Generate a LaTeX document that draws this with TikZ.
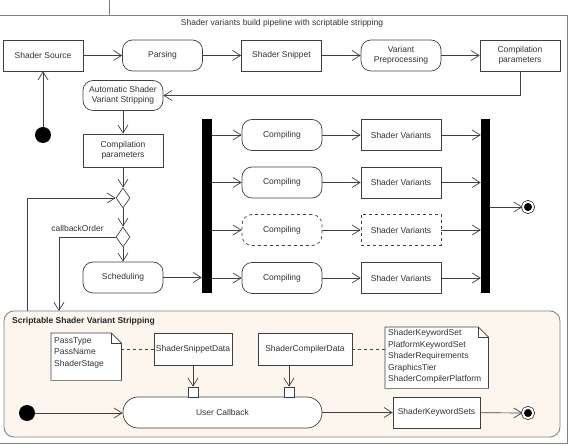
\documentclass[tikz,border=0pt]{standalone}
\usepackage{fontspec}
\setmainfont{Liberation Sans}
\usetikzlibrary{arrows.meta,shapes.geometric}
\definecolor{ln}{HTML}{404040}
\definecolor{tx}{HTML}{333333}
\definecolor{cream}{RGB}{253,246,238}
\tikzset{
  base/.style={draw=ln, line width=0.7pt, text=tx, font=\fontsize{8.5}{10}\selectfont, align=center, inner sep=0pt},
  boxn/.style={base, rectangle, minimum width=80pt, minimum height=31pt, fill=white},
  actn/.style={base, rectangle, rounded corners=10pt, minimum width=80pt, minimum height=31pt, fill=white},
  dia/.style={draw=ln, line width=0.7pt, diamond, inner sep=0pt, minimum width=14pt, minimum height=20pt, fill=white},
  barn/.style={fill=black, draw=none, rectangle, inner sep=0pt},
  initn/.style={circle, fill=black, inner sep=0pt, minimum size=16pt},
  finaln/.style={circle, fill=black, draw=black, line width=0.6pt, double=white, double distance=2pt, inner sep=0pt, minimum size=10.5pt},
  arr/.style={draw=ln, line width=0.7pt, -{Straight Barb[length=8pt,width=10pt,line width=0.7pt]}},
  con/.style={draw=ln, line width=0.7pt},
  pinn/.style={draw=ln, line width=0.7pt, fill=white, rectangle, inner sep=0pt, minimum size=10pt},
  txt/.style={text=tx, font=\fontsize{8.5}{10}\selectfont, inner sep=0pt},
}
\begin{document}
\begin{tikzpicture}[x=1pt,y=-1pt]
\useasboundingbox (0,0) rectangle (571,446);
% frame
\draw[draw=gray, line width=0.8pt] (0,15) -- (567,15) -- (567,443) -- (0,443);
\draw[draw=gray, line width=0.8pt] (109,0) -- (109,15);
\node[txt] (title) at (282,23) {Shader variants build pipeline with scriptable stripping};

% row 1
\node[boxn] (src) at (43,55.5) {Shader Source};
\node[actn] (parse) at (162.5,55.5) {Parsing};
\node[boxn] (snip) at (281.5,55.5) {Shader Snippet};
\node[actn] (vpre) at (401,55.5) {Variant\\Preprocessing};
\node[boxn] (cp1) at (520,55.5) {Compilation\\parameters};
\node[initn] (init1) at (43,135) {};
\node[actn, minimum height=30pt] (auto) at (123,95.5) {Automatic Shader\\Variant Stripping};
\node[boxn, minimum height=33pt] (cp2) at (123,150.5) {Compilation\\parameters};
\node[dia] (d1) at (123,198) {};
\node[dia] (d2) at (123,237) {};
\node[actn] (sched) at (123,277.5) {Scheduling};
\node[txt] (cbo) at (77.5,228) {callbackOrder};

\draw[arr] (src) -- (parse);
\draw[arr] (parse) -- (snip);
\draw[arr] (snip) -- (vpre);
\draw[arr] (vpre) -- (cp1);
\draw[arr] (cp1.south) |- (auto.east);
\draw[arr] (init1) -- (src.south);
\draw[arr] (auto.south) -- (cp2.north);
\draw[arr] (cp2.south) -- (d1.north);
\draw[arr] (d1.south) -- (d2.north);
\draw[arr] (d2.south) -- (sched.north);

% fork / join
\node[barn, minimum width=10pt, minimum height=174pt] (fork) at (207,206) {};
\node[barn, minimum width=9pt, minimum height=174pt] (join) at (485.5,206) {};
\draw[arr] (sched.east) -- (sched.east -| fork.west);

\node[actn] (c1) at (282,135) {Compiling};
\node[actn] (c2) at (282,182.5) {Compiling};
\node[actn, dashed] (c3) at (282,230) {Compiling};
\node[actn] (c4) at (282,278) {Compiling};
\node[boxn] (s1) at (401,135) {Shader Variants};
\node[boxn] (s2) at (401,182.5) {Shader Variants};
\node[boxn, dashed] (s3) at (401,230) {Shader Variants};
\node[boxn] (s4) at (401,278) {Shader Variants};
\foreach \i in {1,2,3,4}{
  \draw[arr] (c\i.west -| fork.east) -- (c\i.west);
  \draw[arr] (c\i) -- (s\i);
  \draw[arr] (s\i.east) -- (s\i.east -| join.west);
}
\node[finaln] (fin1) at (528,207) {};
\draw[arr] (fin1 -| join.east) -- (fin1.west);

% scriptable stripping region
\node[draw=gray, line width=0.8pt, rounded corners=10pt, fill=cream, minimum width=556pt, minimum height=126pt, inner sep=0pt] (ssv) at (282,374) {};
\node[txt, anchor=west, font=\fontsize{8.5}{10}\selectfont\bfseries, text=black!85] (ssvt) at (12,321.5) {Scriptable Shader Variant Stripping};
\coordinate (lp1) at (27,311);
\coordinate (lp2) at (59,311);
\draw[arr] (lp1) |- (d1.west);
\draw[arr] (d2.west) -| (lp2);

% notes
\node[txt, anchor=north west, align=left, font=\fontsize{8.5}{11.7}\selectfont, minimum width=70pt, minimum height=47pt, text depth=0pt] (n1) at (51,333) {};
\draw[con, fill=white] (n1.north west) -- ([xshift=-10pt]n1.north east) -- ([yshift=-10pt]n1.north east) -- (n1.south east) -- (n1.south west) -- cycle;
\draw[con] ([xshift=-10pt]n1.north east) -- ([xshift=-10pt,yshift=-10pt]n1.north east) -- ([yshift=-10pt]n1.north east);
\node[txt, anchor=north west, align=left, font=\fontsize{8.5}{11.7}\selectfont] (n1t) at (54,337) {PassType\\PassName\\ShaderStage};

\node[txt, anchor=north west, minimum width=103pt, minimum height=61pt] (n2) at (385,327) {};
\draw[con, fill=white] (n2.north west) -- ([xshift=-10pt]n2.north east) -- ([yshift=-10pt]n2.north east) -- (n2.south east) -- (n2.south west) -- cycle;
\draw[con] ([xshift=-10pt]n2.north east) -- ([xshift=-10pt,yshift=-10pt]n2.north east) -- ([yshift=-10pt]n2.north east);
\node[txt, anchor=north west, align=left, font=\fontsize{8.5}{11.5}\selectfont] (n2t) at (388,329.5) {ShaderKeywordSet\\PlatformKeywordSet\\ShaderRequirements\\GraphicsTier\\ShaderCompilerPlatform};

\node[boxn, minimum width=78pt, minimum height=32pt] (ssd) at (193,349) {ShaderSnippetData};
\node[boxn, minimum width=94pt, minimum height=32pt] (scd) at (305,349) {ShaderCompilerData};
\draw[con, dashed] (ssd.west -| n1.east) -- (ssd.west);
\draw[con, dashed] (scd.east) -- (scd.east -| n2.west);

\node[actn, rounded corners=15pt, minimum width=199pt] (uc) at (222.5,412.5) {User Callback};
\node[pinn] (p1) at (193,392) {};
\node[pinn] (p2) at (289,392) {};
\draw[arr] (ssd.south -| p1.north) -- (p1.north);
\draw[arr] (scd.south -| p2.north) -- (p2.north);

\node[initn] (init2) at (27,413) {};
\node[boxn, minimum width=87pt] (sks) at (436.5,412.5) {ShaderKeywordSets};
\node[finaln] (fin2) at (528,413) {};
\draw[arr] (init2) -- (init2 -| uc.west);
\draw[arr] (uc) -- (sks);
\draw[arr] (sks) -- (fin2);
\end{tikzpicture}
\end{document}
